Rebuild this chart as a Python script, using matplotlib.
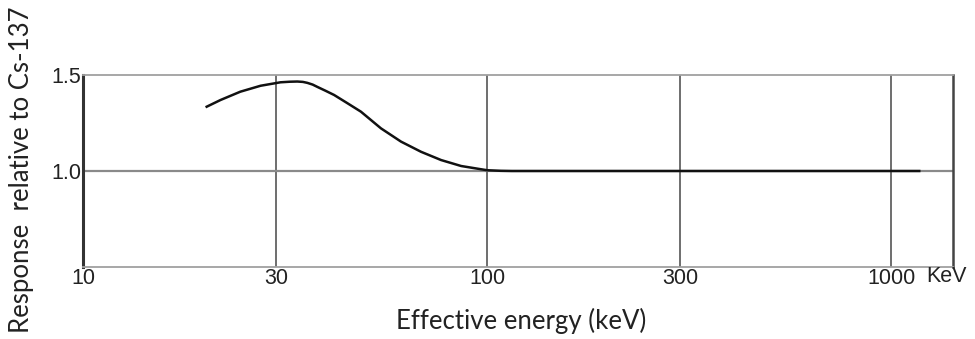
import matplotlib
matplotlib.use("Agg")
import matplotlib.pyplot as plt

# response curve (energy in keV)
energy = [20.1, 21.9, 24.5, 27.5, 30.8, 32.5, 33.9, 35.0, 35.9, 37.0, 38.0,
          39.8, 41.8, 45.1, 48.7, 54.6, 61.2, 68.6, 76.9, 86.2, 96.6, 100,
          108, 115, 1180]
response = [1.332, 1.370, 1.413, 1.444, 1.462, 1.465, 1.466, 1.464, 1.459,
            1.450, 1.438, 1.418, 1.396, 1.353, 1.309, 1.222, 1.153, 1.100,
            1.057, 1.026, 1.009, 1.004, 1.001, 1.0, 1.0]

xticks = [10, 30, 100, 300, 1000]
xtick_labels = ["10", "30", "100", "300", "1000"]
yticks = [1.0, 1.5]
ytick_labels = ["1.0", "1.5"]

fig = plt.figure(figsize=(9.75, 3.39), dpi=100)
ax = fig.add_axes([83 / 975, 72 / 339, 870 / 975, 192 / 339])

ax.set_xscale("log")
ax.set_xlim(10, 1420)
ax.set_ylim(0.5, 1.5)

for x in xticks[1:]:
    ax.axvline(x, color="#6e6e6e", lw=1.4, zorder=1)
ax.axhline(1.0, color="#8a8a8a", lw=1.6, zorder=1)

ax.plot(energy, response, color="#111111", lw=1.8, zorder=3,
        solid_capstyle="butt", solid_joinstyle="round")

for s in ["top", "bottom"]:
    ax.spines[s].set_color("#a0a0a0")
    ax.spines[s].set_linewidth(1.3)
ax.spines["left"].set_color("#333333")
ax.spines["left"].set_linewidth(2.2)
ax.spines["right"].set_color("#444444")
ax.spines["right"].set_linewidth(1.8)

ax.set_xticks(xticks)
ax.set_xticklabels(xtick_labels)
ax.xaxis.set_minor_locator(matplotlib.ticker.NullLocator())
ax.set_yticks(yticks)
ax.set_yticklabels(ytick_labels)
ax.tick_params(length=0, labelsize=15.5, colors="#222222", pad=1,
               labelfontfamily="Liberation Sans")

fig.text(926 / 975, 1 - 277 / 339, "KeV", fontsize=15.5, color="#222222",
         family="Liberation Sans", ha="left", va="center")

fig.text(22 / 975, 1 - 170 / 339, "Response  relative to Cs-137",
         rotation=90, ha="center", va="center", fontsize=18.5,
         family="Lato", color="#222222")
fig.text(521 / 975, 1 - 321 / 339, "Effective energy (keV)",
         ha="center", va="center", fontsize=18.5, family="Lato",
         color="#222222")

fig.savefig("out.png", dpi=100)
